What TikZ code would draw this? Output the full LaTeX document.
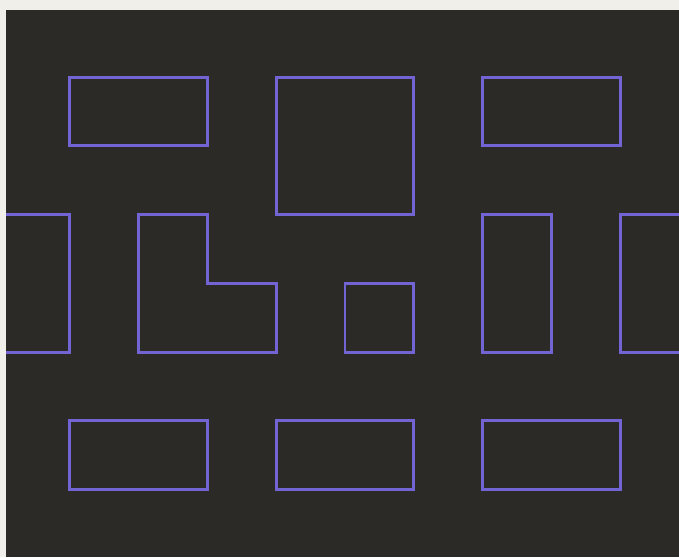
\documentclass[tikz,border=0pt]{standalone}
\usepackage{xcolor}
\usepackage{tikz}
\definecolor{PaperWhite}{HTML}{F1EFEA}
\definecolor{BoardDark}{HTML}{2B2A27}
\definecolor{OutlineViolet}{HTML}{7364D4}
\tikzset{outline/.style={draw=OutlineViolet, line width=1.7pt, line join=miter}}

\begin{document}
\begin{tikzpicture}[x=1.375cm, y=-1.375cm]
  % Page and board
  \useasboundingbox (-1.018,-1.12) rectangle (8.858,6.982);
  \fill[PaperWhite] (-1.018,-1.12) rectangle (8.858,6.982);
  \fill[BoardDark] (-0.931,-0.975) rectangle (8.858,6.982);

  % Top row
  \draw[outline] (0,0) rectangle (2,1);
  \draw[outline] (3,0) rectangle (5,2);
  \draw[outline] (6,0) rectangle (8,1);

  % Middle row (outer pieces run off the board)
  \draw[outline] (-0.931,2) -- (0,2) -- (0,4) -- (-0.931,4);
  \draw[outline] (1,2) -- (2,2) -- (2,3) -- (3,3) -- (3,4) -- (1,4) -- cycle;
  \draw[outline] (4,3) rectangle (5,4);
  \draw[outline] (6,2) rectangle (7,4);
  \draw[outline] (8.9,2) -- (8,2) -- (8,4) -- (8.9,4);

  % Bottom row
  \draw[outline] (0,5) rectangle (2,6);
  \draw[outline] (3,5) rectangle (5,6);
  \draw[outline] (6,5) rectangle (8,6);
\end{tikzpicture}
\end{document}
